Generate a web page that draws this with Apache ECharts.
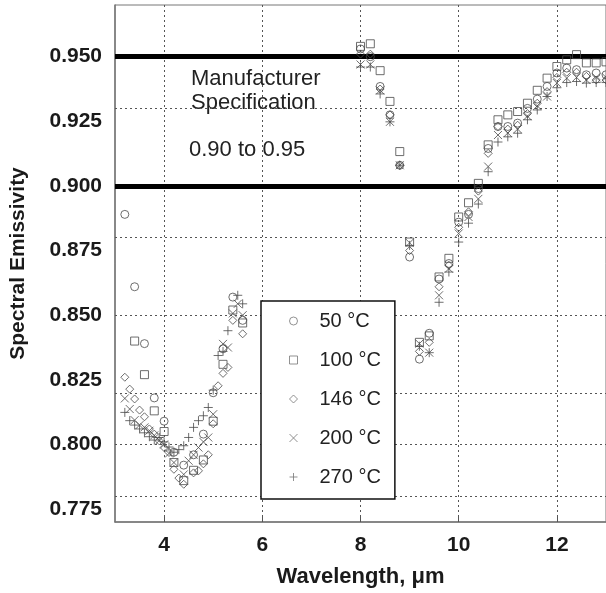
<!DOCTYPE html>
<html>
<head>
<meta charset="utf-8">
<style>
  html, body { margin: 0; padding: 0; background: #fff; }
  #chart { width: 606px; height: 593px; }
</style>
<script src="https://cdn.jsdelivr.net/npm/echarts@6/dist/echarts.min.js"></script>
</head>
<body>
<div id="chart"></div>
<script>
// tick positions
const xTicks = [4, 6, 8, 10, 12]
const yTicks = [0.775, 0.8, 0.825, 0.85, 0.875, 0.9, 0.925, 0.95]

// manufacturer spec band
const specLimits = [0.9, 0.95]

const names = ['50 °C', '100 °C', '146 °C', '200 °C', '270 °C']

// [wavelength um, emissivity]
const emis50 = [
  [3.2, 0.889], [3.4, 0.861], [3.6, 0.839], [3.8, 0.818], [4.0, 0.809], [4.2, 0.797], [4.4, 0.792],
  [4.6, 0.796], [4.8, 0.804], [5.0, 0.820], [5.2, 0.837], [5.4, 0.857], [5.6, 0.848],
  [8.0, 0.953], [8.2, 0.950], [8.4, 0.9385], [8.6, 0.9275], [8.8, 0.908], [9.0, 0.8725], [9.2, 0.833],
  [9.4, 0.843], [9.6, 0.864], [9.8, 0.870], [10.0, 0.886], [10.2, 0.889], [10.4, 0.899], [10.6, 0.9145],
  [10.8, 0.923], [11.0, 0.923], [11.2, 0.9243], [11.4, 0.930], [11.6, 0.9336], [11.8, 0.9385],
  [12.0, 0.9437], [12.2, 0.9456], [12.4, 0.945], [12.6, 0.943], [12.8, 0.9437], [13.0, 0.943]
]
const emis100 = [
  [3.4, 0.840], [3.6, 0.827], [3.8, 0.813], [4.0, 0.805], [4.2, 0.793], [4.4, 0.786], [4.6, 0.790],
  [4.8, 0.794], [5.0, 0.809], [5.2, 0.831], [5.4, 0.852], [5.6, 0.847],
  [8.0, 0.954], [8.2, 0.955], [8.4, 0.9446], [8.6, 0.9327], [8.8, 0.9133], [9.0, 0.8783], [9.2, 0.8395],
  [9.4, 0.842], [9.6, 0.8648], [9.8, 0.872], [10.0, 0.888], [10.2, 0.8935], [10.4, 0.901], [10.6, 0.9159],
  [10.8, 0.9256], [11.0, 0.9275], [11.2, 0.9288], [11.4, 0.932], [11.6, 0.937], [11.8, 0.9417],
  [12.0, 0.9462], [12.2, 0.9488], [12.4, 0.9508], [12.6, 0.9476], [12.8, 0.9476], [13.0, 0.948]
]
const emis146 = [
  [3.2, 0.826], [3.3, 0.8214], [3.4, 0.8176], [3.5, 0.8133], [3.6, 0.8107], [3.7, 0.806], [3.8, 0.804],
  [3.9, 0.8014], [4.0, 0.7988], [4.1, 0.7969], [4.2, 0.7904], [4.3, 0.787], [4.4, 0.7846], [4.6, 0.789],
  [4.7, 0.7898], [4.8, 0.7925], [4.9, 0.796], [5.0, 0.808], [5.1, 0.8227], [5.2, 0.8275], [5.3, 0.8298],
  [5.4, 0.848], [5.6, 0.8428],
  [8.0, 0.951], [8.2, 0.951], [8.4, 0.9375], [8.6, 0.9275], [8.8, 0.908], [9.0, 0.875], [9.2, 0.836],
  [9.4, 0.8395], [9.6, 0.861], [9.8, 0.8693], [10.0, 0.884], [10.2, 0.890], [10.4, 0.898], [10.6, 0.9126],
  [10.8, 0.923], [11.0, 0.922], [11.2, 0.9235], [11.4, 0.928], [11.6, 0.932], [11.8, 0.9365],
  [12.0, 0.942], [12.2, 0.944], [12.4, 0.944], [12.6, 0.9424], [12.8, 0.941], [13.0, 0.941]
]
const emis200 = [
  [3.2, 0.8178], [3.3, 0.8137], [3.4, 0.8094], [3.5, 0.8075], [3.6, 0.8066], [3.7, 0.8053], [3.8, 0.8035],
  [3.9, 0.8015], [4.0, 0.800], [4.1, 0.7965], [4.2, 0.793], [4.4, 0.7884], [4.5, 0.7937], [4.6, 0.796],
  [4.7, 0.7988], [4.8, 0.801], [4.9, 0.8027], [5.0, 0.8117], [5.2, 0.8389], [5.3, 0.8375], [5.4, 0.8507],
  [5.5, 0.8544], [5.6, 0.850],
  [8.0, 0.947], [8.2, 0.947], [8.4, 0.937], [8.6, 0.9248], [8.8, 0.908], [9.0, 0.878], [9.2, 0.839],
  [9.4, 0.8355], [9.6, 0.8577], [9.8, 0.868], [10.0, 0.8816], [10.2, 0.888], [10.4, 0.895], [10.6, 0.9075],
  [10.8, 0.9197], [11.0, 0.9205], [11.2, 0.922], [11.4, 0.927], [11.6, 0.931], [11.8, 0.9346],
  [12.0, 0.9398], [12.2, 0.9417], [12.4, 0.942], [12.6, 0.941], [12.8, 0.942], [13.0, 0.942]
]
const emis270 = [
  [3.2, 0.8124], [3.3, 0.8092], [3.4, 0.8075], [3.5, 0.806], [3.6, 0.8045], [3.7, 0.803], [3.8, 0.8017],
  [3.9, 0.8027], [4.0, 0.801], [4.1, 0.799], [4.2, 0.797], [4.3, 0.798], [4.4, 0.7995], [4.5, 0.8027],
  [4.6, 0.8066], [4.7, 0.8092], [4.8, 0.8111], [4.9, 0.8143], [5.0, 0.821], [5.1, 0.8344], [5.2, 0.836],
  [5.3, 0.844], [5.5, 0.8577], [5.6, 0.8544],
  [8.0, 0.946], [8.2, 0.946], [8.4, 0.9356], [8.6, 0.9248], [8.8, 0.908], [9.0, 0.877], [9.2, 0.838],
  [9.4, 0.8355], [9.6, 0.855], [9.8, 0.8667], [10.0, 0.8783], [10.2, 0.8856], [10.4, 0.893], [10.6, 0.9055],
  [10.8, 0.917], [11.0, 0.919], [11.2, 0.9204], [11.4, 0.9256], [11.6, 0.9294], [11.8, 0.9346],
  [12.0, 0.938], [12.2, 0.940], [12.4, 0.9404], [12.6, 0.9398], [12.8, 0.940], [13.0, 0.940]
]

const markerColor = '#4a4a4a'
const font = '"Liberation Sans", Arial, sans-serif'
const symbols = [
  { symbol: 'circle', size: 8 },
  { symbol: 'rect', size: 8 },
  { symbol: 'diamond', size: 8 },
  { symbol: 'path://M0,0L10,10M10,0L0,10', size: 8 },
  { symbol: 'path://M5,0L5,10M0,5L10,5', size: 9 }
]
const allData = [emis50, emis100, emis146, emis200, emis270]

const series = allData.map((d, i) => ({
  name: names[i],
  type: 'scatter',
  data: d,
  symbol: symbols[i].symbol,
  symbolSize: symbols[i].size,
  itemStyle: {
    color: 'transparent',
    borderColor: markerColor,
    borderWidth: 1
  },
  z: 3
}))

// dotted grid lines
series[0].markLine = {
  silent: true,
  symbol: ['none', 'none'],
  label: { show: false },
  z: 1,
  lineStyle: { color: '#555', width: 1, type: [2, 3] },
  data: xTicks.map(v => ({ xAxis: v })).concat(yTicks.map(v => ({ yAxis: v })))
}
// spec limits
series[1].markLine = {
  silent: true,
  symbol: ['none', 'none'],
  label: { show: false },
  z: 2,
  lineStyle: { color: '#000', width: 5, type: 'solid' },
  data: specLimits.map(v => ({ yAxis: v }))
}

const chart = echarts.init(document.getElementById('chart'))
chart.setOption({
  animation: false,
  backgroundColor: '#fff',
  grid: {
    left: 114,
    right: 0,
    top: 5,
    bottom: 71,
    show: true,
    borderColor: '#777',
    borderWidth: 1
  },
  legend: {
    data: names,
    orient: 'vertical',
    left: 261,
    top: 301,
    itemWidth: 8,
    itemHeight: 8,
    itemGap: 19,
    padding: [10, 14, 12, 28],
    borderColor: '#111',
    borderWidth: 1.5,
    backgroundColor: '#fff',
    selectedMode: false,
    itemStyle: { borderColor: '#777', borderWidth: 1 },
    textStyle: {
      fontFamily: font,
      fontSize: 20,
      lineHeight: 20,
      color: '#222',
      padding: [0, 0, 0, 17]
    }
  },
  xAxis: {
    type: 'value',
    min: 3,
    max: 13,
    name: 'Wavelength, \u03bcm',
    nameLocation: 'middle',
    nameGap: 44,
    nameTextStyle: {
      fontFamily: font,
      fontSize: 22,
      fontWeight: 'bold',
      color: '#1a1a1a'
    },
    axisLine: { lineStyle: { color: '#777', width: 1.5 } },
    axisTick: { show: true, inside: true, length: 5, customValues: xTicks, lineStyle: { color: '#555' } },
    axisLabel: {
      customValues: xTicks,
      margin: 13,
      fontFamily: font,
      fontSize: 21,
      fontWeight: 'bold',
      color: '#1a1a1a'
    },
    splitLine: { show: false }
  },
  yAxis: {
    type: 'value',
    min: 0.77,
    max: 0.97,
    name: 'Spectral Emissivity',
    nameLocation: 'middle',
    nameGap: 86,
    nameTextStyle: {
      fontFamily: font,
      fontSize: 21,
      fontWeight: 'bold',
      color: '#1a1a1a'
    },
    axisLine: { show: true, lineStyle: { color: '#777', width: 1.5 } },
    axisTick: { show: false, customValues: yTicks },
    axisLabel: {
      customValues: yTicks,
      margin: 13,
      formatter: v => v.toFixed(3),
      fontFamily: font,
      fontSize: 21,
      fontWeight: 'bold',
      color: '#1a1a1a'
    },
    splitLine: { show: false }
  },
  graphic: [
    {
      type: 'text', left: 191, top: 68,
      style: { text: 'Manufacturer', font: '22px ' + font, fill: '#222' }
    },
    {
      type: 'text', left: 191, top: 92,
      style: { text: 'Specification', font: '22px ' + font, fill: '#222' }
    },
    {
      type: 'text', left: 189, top: 139,
      style: { text: '0.90 to 0.95', font: '22px ' + font, fill: '#222' }
    }
  ],
  series: series
})
</script>
</body>
</html>
